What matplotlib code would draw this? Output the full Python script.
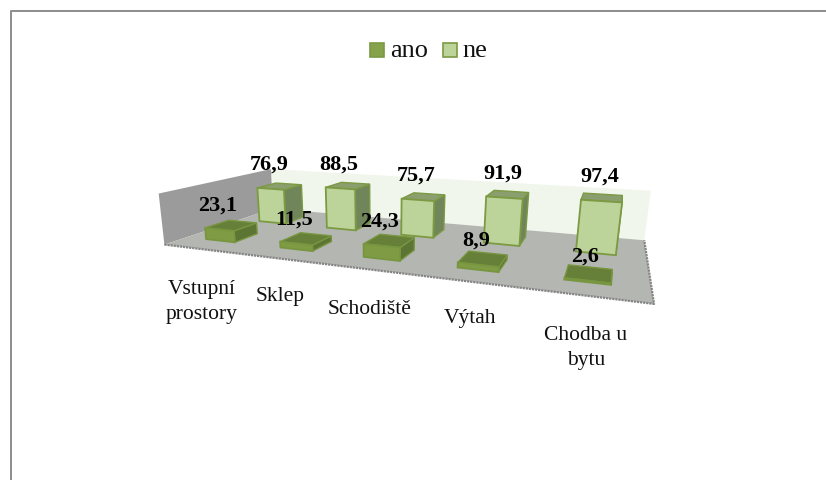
#!/usr/bin/env python3
"""Clustered 3D column chart, drawn through a small pinhole camera."""

import matplotlib

matplotlib.use("Agg")
import matplotlib.pyplot as plt
import numpy as np
from matplotlib.patches import Polygon, Rectangle

categories = ["Vstupní\nprostory", "Sklep", "Schodiště", "Výtah", "Chodba u\nbytu"]
ano = [23.1, 11.5, 24.3, 8.9, 2.6]
ne = [76.9, 88.5, 75.7, 91.9, 97.4]
labels_ano = ["23,1", "11,5", "24,3", "8,9", "2,6"]
labels_ne = ["76,9", "88,5", "75,7", "91,9", "97,4"]

# Chart box corners (category, depth, value) against where they land on screen.
BOX = np.array([
    [0, 0, 0], [5, 0, 0], [0, 1, 0], [5, 1, 0],
    [0, 0, 100], [0, 1, 100], [5, 1, 100], [5, 0, 100],
], dtype=float)
SCREEN = np.array([
    [165, 243], [654, 303], [272, 212], [645, 238],
    [158, 192], [272, 168], [650, 190], [664, 240],
], dtype=float)

BAR_W = 0.40
DEPTH = {"ano": (0.17, 0.37), "ne": (0.64, 0.84)}
NUDGE = {"ano": -0.03, "ne": 0.0}

ANO = {"front": "#7f9c45", "top": "#66803a", "side": "#5c7434", "edge": "#77963f"}
NE = {"front": "#bcd39a", "top": "#8b9e6e", "side": "#71855a", "edge": "#7b9a42"}


def fit_camera(box, screen):
    # plain DLT, 11 unknowns
    rows, rhs = [], []
    for (x, y, z), (u, v) in zip(box, screen):
        rows.append([x, y, z, 1, 0, 0, 0, 0, -u * x, -u * y, -u * z])
        rows.append([0, 0, 0, 0, x, y, z, 1, -v * x, -v * y, -v * z])
        rhs += [u, v]
    p = np.linalg.lstsq(np.array(rows), np.array(rhs), rcond=None)[0]
    return np.append(p, 1.0).reshape(3, 4)


CAM = fit_camera(BOX, SCREEN)


def project(x, y, z):
    u, v, w = CAM @ np.array([x, y, z, 1.0])
    return u / w, v / w


def draw_bar(ax, i, depth, nudge, value, style, zorder):
    x0 = i + (1 - BAR_W) / 2 + nudge
    x1 = x0 + BAR_W
    y0, y1 = depth
    front = [project(x0, y0, 0), project(x1, y0, 0), project(x1, y0, value), project(x0, y0, value)]
    top = [project(x0, y0, value), project(x1, y0, value), project(x1, y1, value), project(x0, y1, value)]
    side = [project(x1, y0, 0), project(x1, y1, 0), project(x1, y1, value), project(x1, y0, value)]
    ax.add_patch(Polygon(side, fc=style["side"], ec=style["edge"], lw=1, zorder=zorder))
    ax.add_patch(Polygon(top, fc=style["top"], ec=style["edge"], lw=1, zorder=zorder))
    ax.add_patch(Polygon(front, fc=style["front"], ec=style["edge"], lw=1.3, zorder=zorder))
    # label anchor: a little left of the middle of the front top edge
    return project((x0 + x1) / 2 - 0.02, y0, value)


def main():
    plt.rcParams["font.family"] = ["Liberation Serif", "DejaVu Serif"]
    fig = plt.figure(figsize=(8.26, 4.8), dpi=100)
    ax = fig.add_axes([0, 0, 1, 1])
    ax.set_xlim(0, 826)
    ax.set_ylim(480, 0)
    ax.axis("off")

    # outer frame
    ax.plot([11, 11, 826], [480, 11, 11], color="#8c8c8c", lw=1.4, zorder=1)

    ax.add_patch(Polygon([project(0, 1, 0), project(5, 1, 0), project(5, 1, 100), project(0, 1, 100)],
                         fc="#f0f6eb", ec="none", zorder=2))
    ax.add_patch(Polygon([project(0, 0, 0), project(0, 1, 0), project(0, 1, 100), project(0, 0, 100)],
                         fc="#9b9b9b", ec="none", zorder=2))
    ax.add_patch(Polygon([project(0, 0, 0), project(5, 0, 0), project(5, 1, 0), project(0, 1, 0)],
                         fc="#b4b6b1", ec="none", zorder=3))
    fx, fy = zip(project(0, 0, 0), project(5, 0, 0), project(5, 1, 0))
    ax.plot(fx, fy, color="#858585", lw=1.6, ls=(0, (1, 0.4)), zorder=3)

    tops_ne, tops_ano = [], []
    for i, value in enumerate(ne):
        tops_ne.append(draw_bar(ax, i, DEPTH["ne"], NUDGE["ne"], value, NE, 4 + i * 0.01))
    for i, value in enumerate(ano):
        tops_ano.append(draw_bar(ax, i, DEPTH["ano"], NUDGE["ano"], value, ANO, 5 + i * 0.01))

    for (u, v), text in zip(tops_ne + tops_ano, labels_ne + labels_ano):
        ax.text(u, v - 24, text, ha="center", va="center", fontsize=16, fontweight="bold", color="black", zorder=8)

    # axis labels sit under the front edge
    label_pos = [(202, 302), (280, 297), (370, 309), (470, 318), (586, 348)]
    for (u, v), text in zip(label_pos, categories):
        ax.text(u, v, text, ha="center", va="center", fontsize=15.5, linespacing=1.42, color="#111111", zorder=8)

    # legend
    for x, fill, name, tx in [(370, "#86a34b", "ano", 390), (443, NE["front"], "ne", 462)]:
        ax.add_patch(Rectangle((x, 43), 14, 14, fc=fill, ec=NE["edge"], lw=1.2, zorder=8))
        ax.text(tx, 51, name, ha="left", va="center", fontsize=19, color="#111111", zorder=8)

    fig.savefig("out.png", dpi=100)
    plt.close(fig)


if __name__ == "__main__":
    main()
